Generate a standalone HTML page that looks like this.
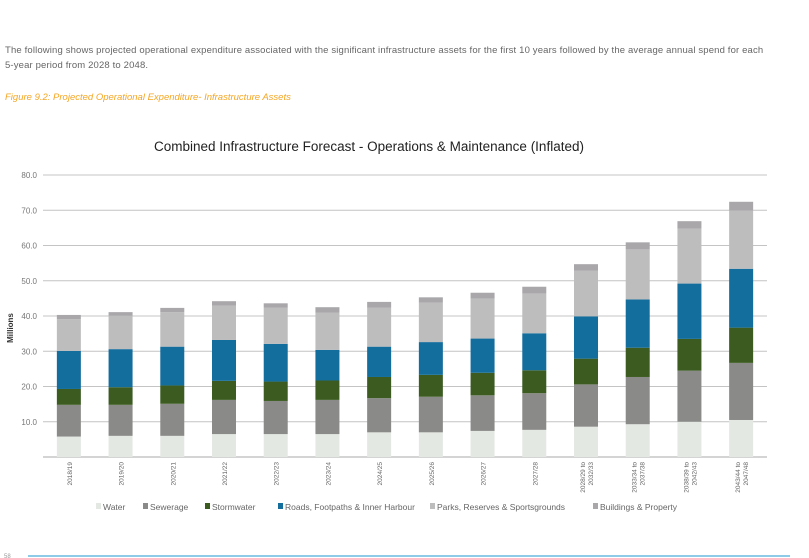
<!DOCTYPE html>
<html><head><meta charset="utf-8"><style>
body{margin:0;width:809px;height:558px;background:#fff;font-family:"Liberation Sans",sans-serif;overflow:hidden;position:relative}
.p{position:absolute;left:5px;font-size:9.5px;color:#666;letter-spacing:0.15px}
.cap{position:absolute;left:5px;top:92px;font-size:9.5px;color:#f5a623;font-style:italic}
</style></head><body>
<div class="p" style="top:45px">The following shows projected operational expenditure associated with the significant infrastructure assets for the first 10 years followed by the average annual spend for each</div>
<div class="p" style="top:60px">5-year period from 2028 to 2048.</div>
<div class="cap">Figure 9.2:  Projected Operational Expenditure- Infrastructure Assets</div>
<svg id="chart" width="809" height="558" style="position:absolute;left:0;top:0">
<text x="369" y="151" text-anchor="middle" font-size="13.5" fill="#222">Combined Infrastructure Forecast - Operations &amp; Maintenance (Inflated)</text>
<text transform="translate(13,328) rotate(-90)" text-anchor="middle" font-size="8" font-weight="bold" fill="#333">Millions</text>
<line x1="28" y1="556" x2="790" y2="556" stroke="#8dcbe8" stroke-width="2"/>
<text x="4" y="558" font-size="6" fill="#999">58</text>
<g id="grid"></g><g id="bars"></g><g id="xl"></g><g id="legend"></g>
</svg>
<script>
const categories=["2018/19","2019/20","2020/21","2021/22","2022/23","2023/24","2024/25","2025/26","2026/27","2027/28","2028/29 to 2032/33","2033/34 to 2037/38","2038/39 to 2042/43","2043/44 to 2047/48"];
const seriesNames=["Water","Sewerage","Stormwater","Roads, Footpaths & Inner Harbour","Parks, Reserves & Sportsgrounds","Buildings & Property"];
const water=[5.8,6.0,6.0,6.5,6.5,6.5,7.0,7.0,7.4,7.7,8.6,9.3,10.0,10.5];
const sewerage=[9.0,8.8,9.1,9.7,9.4,9.7,9.7,10.1,10.1,10.4,12.0,13.4,14.5,16.2];
const stormwater=[4.5,5.0,5.2,5.4,5.5,5.5,6.0,6.2,6.4,6.5,7.3,8.3,9.0,10.0];
const roads=[10.8,10.8,11.0,11.6,10.7,8.7,8.6,9.3,9.7,10.5,12.0,13.7,15.7,16.7];
const parks=[9.0,9.5,9.8,9.7,10.3,10.5,11.1,11.2,11.3,11.3,13.0,14.2,15.6,16.5];
const buildings=[1.2,1.0,1.2,1.3,1.2,1.6,1.6,1.5,1.7,1.9,1.8,2.0,2.1,2.5];
const yTicks=[10,20,30,40,50,60,70,80];
const yTickLabels=["10.0","20.0","30.0","40.0","50.0","60.0","70.0","80.0"];
const series=[water,sewerage,stormwater,roads,parks,buildings];
const colors=["#e3e8e3","#8a8b88","#3b5b20","#136e9e","#bdbdbd","#a9a7aa"];
const NS="http://www.w3.org/2000/svg";
const x0=43,x1=767,y0=457,yTop=175,yMax=80;
const bw=(x1-x0)/categories.length;
const Y=v=>y0-(v/yMax)*(y0-yTop);
const X=i=>x0+bw*(i+0.5);
function mk(t,a,p){const e=document.createElementNS(NS,t);for(const k in a)e.setAttribute(k,a[k]);p.appendChild(e);return e;}
const grid=document.getElementById('grid');
yTicks.forEach((v,i)=>{
 const l=mk('line',{x1:x0,x2:x1,y1:Y(v),y2:Y(v),stroke:'#c4c4c4','stroke-width':1},grid);
 
 
 const t=mk('text',{x:37,y:Y(v)+3,'text-anchor':'end','font-size':8,fill:'#777'},grid);
 t.textContent=yTickLabels[i];
 
 
});
const ax=mk('line',{x1:x0,x2:x1,y1:y0,y2:y0,stroke:'#bbb','stroke-width':1.2},grid);


const bars=document.getElementById('bars');
categories.forEach((c,i)=>{
 let acc=0;
 series.forEach((s,k)=>{
  const r=mk('rect',{x:X(i)-12,width:24,y:Y(acc+s[i]),height:Y(acc)-Y(acc+s[i]),fill:colors[k]},bars);
  
  
  acc+=s[i];
 });
 const xl=document.getElementById('xl');
 const parts=c.split(' to ');
 const t=mk('text',{transform:`translate(${X(i)+3},462) rotate(-90)`,'text-anchor':'end','font-size':6.5,fill:'#666'},xl);
 
 
 if(parts.length>1){
  const a=mk('tspan',{x:0,dy:-4},t);a.textContent=parts[0]+' to';
  const b=mk('tspan',{x:0,dy:8},t);b.textContent=parts[1];
 } else t.textContent=c;
});
const lg=document.getElementById('legend');
const lx=[96,143,205,278,430,593];
seriesNames.forEach((n,k)=>{
 const g=mk('g',{},lg);
 
 
 mk('rect',{x:lx[k],y:503,width:5,height:6,fill:colors[k]},g);
 const t=mk('text',{x:lx[k]+7,y:510,'font-size':8.5,fill:'#666'},g);
 t.textContent=n;
});
</script>
</body></html>
